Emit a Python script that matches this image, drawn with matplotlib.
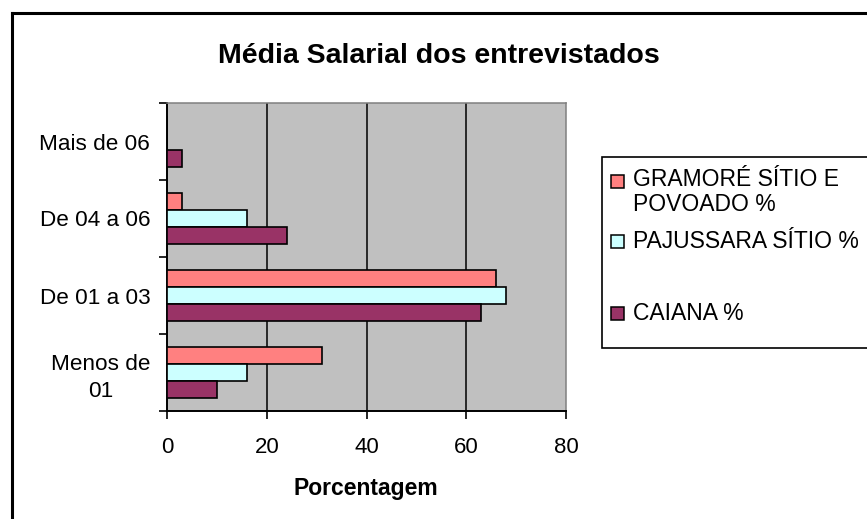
import matplotlib
matplotlib.use("Agg")
import matplotlib.pyplot as plt
import numpy as np
from matplotlib.patches import Rectangle
from matplotlib.lines import Line2D

categories = ["Menos de\n01", "De 01 a 03", "De 04 a 06", "Mais de 06"]
series_names = ["GRAMORÉ SÍTIO E\nPOVOADO %", "PAJUSSARA SÍTIO %", "CAIANA %"]
gramore = [31, 66, 3, 0]
pajussara = [16, 68, 16, 0]
caiana = [10, 63, 24, 3]
xticks = [0, 20, 40, 60, 80]
title = "Média Salarial dos entrevistados"
xlabel = "Porcentagem"

colors = ["#FF8080", "#CCFFFF", "#993366"]
values = [gramore, pajussara, caiana]

plt.rcParams['font.family'] = ['Liberation Sans', 'DejaVu Sans']

W, H = 867, 519
fig = plt.figure(figsize=(W / 100, H / 100), dpi=100)
fig.patch.set_facecolor("white")

ax = fig.add_axes([167 / W, 1 - 411 / H, (566 - 167) / W, (411 - 103) / H])
ax.set_facecolor("#C0C0C0")

y = np.arange(len(categories))
bh = 0.22
offsets = [bh, 0, -bh]
for vals, col, off in zip(values, colors, offsets):
    ax.barh(y + off, vals, height=bh, color=col, edgecolor="black",
            linewidth=1.2, zorder=3)

ax.set_xlim(0, 80)
ax.set_ylim(-0.5, len(categories) - 0.5)
ax.set_xticks(xticks)
ax.set_xticklabels([str(v) for v in xticks], fontsize=16)
ax.set_yticks(y)
ax.set_yticklabels(categories, fontsize=16.2, multialignment="center", linespacing=1.35)
ax.set_yticks(np.arange(-0.5, len(categories), 1), minor=True)
ax.tick_params(axis="y", which="major", length=0, pad=12)
ax.tick_params(axis="y", which="minor", length=6, width=1.2, direction="out", color="black")
ax.tick_params(axis="x", which="major", length=6, width=1.2, direction="out", pad=13)
for xv in xticks[1:-1]:
    ax.axvline(xv, color="black", linewidth=1.1, zorder=1)

ax.spines["left"].set_color("black")
ax.spines["bottom"].set_color("black")
ax.spines["left"].set_linewidth(1.4)
ax.spines["bottom"].set_linewidth(1.4)
ax.spines["top"].set_color("#808080")
ax.spines["right"].set_color("#808080")
ax.spines["top"].set_linewidth(1.1)
ax.spines["right"].set_linewidth(1.1)

fig.text(439 / W, 1 - 56 / H, title, fontsize=20.5, fontweight="bold",
         ha="center", va="center")
fig.text(366 / W, 1 - 489 / H, xlabel, fontsize=16.5, fontweight="bold",
         ha="center", va="center")

# outer frame (left and top edges visible)
fig.add_artist(Line2D([12 / W, 12 / W], [0, 1 - 13 / H], color="black", linewidth=2.2,
                      transform=fig.transFigure))
fig.add_artist(Line2D([12 / W, 1], [1 - 13 / H, 1 - 13 / H], color="black", linewidth=2.2,
                      transform=fig.transFigure))

# legend box
fig.add_artist(Rectangle((602 / W, 1 - 348 / H), (W + 10 - 602) / W, (348 - 157) / H,
                         transform=fig.transFigure, facecolor="white",
                         edgecolor="black", linewidth=1.2))
leg_y = [181, 241, 313]
leg_text_y = [192, 241, 313]
for name, col, ly, ty in zip(series_names, colors, leg_y, leg_text_y):
    s = 13
    fig.add_artist(Rectangle((611 / W, 1 - (ly + s / 2) / H), s / W, s / H,
                             transform=fig.transFigure, facecolor=col,
                             edgecolor="black", linewidth=1.1))
    fig.text(633 / W, 1 - ty / H, name, fontsize=16.5, ha="left", va="center",
             linespacing=1.1)

fig.savefig("out.png", dpi=100)
